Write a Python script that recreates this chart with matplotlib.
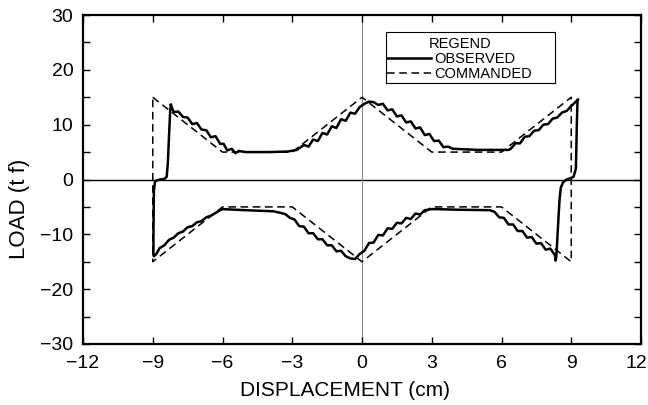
import matplotlib
matplotlib.use("Agg")
import matplotlib.pyplot as plt
from matplotlib.patches import Rectangle
from matplotlib.transforms import ScaledTranslation

# ---------------- data ----------------
cmd_x = [-9, -6, -3, 0, 3, 6, 9, 9, 6, 3, 0, -3, -6, -9, -9]
cmd_y = [15, 5, 5, 15, 5, 5, 15, -15, -5, -5, -15, -5, -5, -15, 15]

obs_x = [
    # top-left descending branch
    -8.22, -8.1, -7.9, -7.7, -7.5, -7.3, -7.1, -6.9, -6.7, -6.5, -6.3, -6.1, -5.95, -5.8, -5.6, -5.45, -5.3,
    # top-left flat
    -5.0, -4.0, -3.2,
    # rising to centre peak
    -2.8, -2.5, -2.3, -2.1, -1.9, -1.7, -1.5, -1.3, -1.1, -0.9, -0.7, -0.5, -0.3, -0.1, 0.1, 0.3, 0.5,
    # descending right of peak
    0.7, 0.9, 1.1, 1.3, 1.5, 1.7, 1.9, 2.1, 2.3, 2.5, 2.7, 2.9, 3.1, 3.3, 3.5, 3.7, 3.9,
    # top-right flat
    5.0, 6.3,
    # rising to right end
    6.4, 6.6, 6.8, 7.0, 7.2, 7.4, 7.6, 7.8, 8.0, 8.2, 8.4, 8.6, 8.8, 9.0, 9.15, 9.3,
    # right drop
    9.27, 9.24, 9.2, 9.1, 8.95, 8.8, 8.65, 8.55, 8.5, 8.45, 8.4, 8.36, 8.33,
    # lower-right branch rising to the left
    8.3, 8.1, 7.9, 7.7, 7.5, 7.3, 7.1, 6.9, 6.7, 6.5, 6.3, 6.1, 5.9, 5.7, 5.5,
    # lower-right flat
    4.0, 3.2,
    # descending to bottom centre
    3.0, 2.7, 2.5, 2.3, 2.1, 1.9, 1.7, 1.5, 1.3, 1.1, 0.9, 0.7, 0.5, 0.3, 0.1, -0.1, -0.3,
    # lower-left centre branch
    -0.5, -0.7, -0.9, -1.1, -1.3, -1.5, -1.7, -1.9, -2.1, -2.3, -2.5, -2.7, -2.9, -3.1, -3.3, -3.6, -3.8,
    # lower-left flat
    -5.0, -6.0,
    # descending to left end
    -6.1, -6.3, -6.5, -6.7, -6.9, -7.1, -7.3, -7.5, -7.7, -7.9, -8.1, -8.3, -8.5, -8.7, -8.85, -8.95,
    # left rise
    -8.97, -8.97, -8.95, -8.9, -8.7, -8.5, -8.4, -8.35, -8.3, -8.25, -8.22,
]
obs_y = [
    13.6, 12.3, 12.4, 11.4, 11.3, 10.1, 10.3, 9.1, 9.0, 7.7, 7.9, 6.5, 6.5, 5.3, 5.6, 4.8, 5.2,
    5.0, 5.0, 5.1,
    5.4, 6.3, 6.0, 7.3, 7.0, 8.5, 8.2, 9.7, 9.4, 11.0, 10.7, 12.2, 12.0, 13.2, 13.8, 14.2, 14.1,
    13.6, 13.8, 12.6, 12.8, 11.5, 11.7, 10.4, 10.6, 9.3, 9.5, 8.1, 8.3, 7.0, 7.1, 5.9, 6.0, 5.6,
    5.4, 5.4,
    5.6, 6.6, 6.6, 7.8, 7.9, 8.9, 9.0, 10.0, 10.1, 11.1, 11.3, 12.2, 12.5, 13.4, 14.0, 14.6,
    14.5, 10.0, 2.0, 0.5, 0.2, 0.0, -0.5, -1.5, -3.5, -7.0, -11.0, -14.0, -14.8,
    -13.8, -12.6, -12.8, -11.6, -11.7, -10.5, -10.6, -9.4, -9.4, -8.2, -8.2, -7.0, -6.9, -5.9, -5.6,
    -5.5, -5.4,
    -5.4, -5.6, -6.4, -6.2, -7.2, -7.0, -8.0, -7.9, -9.0, -8.9, -10.2, -10.1, -11.5, -11.6, -13.0, -13.6, -14.5,
    -14.4, -14.0, -13.0, -13.1, -12.0, -12.0, -10.9, -10.9, -9.8, -9.8, -8.6, -8.5, -7.3, -7.0, -6.3, -6.0, -5.8,
    -5.6, -5.4,
    -5.6, -6.1, -6.6, -6.9, -7.6, -7.8, -8.5, -8.7, -9.5, -9.8, -10.6, -11.0, -12.0, -12.5, -13.6, -14.0,
    -13.8, -10.0, -2.0, -0.3, 0.0, 0.1, 0.5, 3.0, 8.0, 12.5, 13.6,
]

x_ticks = [-12, -9, -6, -3, 0, 3, 6, 9, 12]
y_ticks = [-30, -20, -10, 0, 10, 20, 30]

# ---------------- figure ----------------
plt.rcParams["font.family"] = ["Liberation Sans", "DejaVu Sans"]

W, H = 648, 405
fig = plt.figure(figsize=(W / 100, H / 100), dpi=100)
L, R, T, B = 83, 641, 15, 344
ax = fig.add_axes([L / W, 1 - B / H, (R - L) / W, (B - T) / H])

def ax_coords(px, py):
    return (px - L) / (R - L), (B - py) / (B - T)

ax.axhline(0, color="black", lw=1.0, zorder=1)
ax.axvline(0, color="#888888", lw=0.8, zorder=1)

ax.plot(obs_x, obs_y, color="black", lw=1.8, solid_joinstyle="round", label="OBSERVED", zorder=3)
ax.plot(cmd_x, cmd_y, color="black", lw=1.1, linestyle=(0, (5, 3)), label="COMMANDED", zorder=2)

ax.set_xlim(-12, 12)
ax.set_ylim(-30, 30)
ax.set_xticks(x_ticks)
ax.set_xticklabels([str(v).replace("-", "\u2212") for v in x_ticks])
ax.set_yticks(y_ticks)
ax.set_yticklabels([str(v).replace("-", "\u2212") for v in y_ticks])
ax.set_yticks([-25, -15, -5, 5, 15, 25], minor=True)
ax.tick_params(which="both", direction="in", top=True, right=True, labelsize=14, width=1.0)
ax.tick_params(which="both", length=5)
ax.tick_params(axis="x", pad=8)
ax.tick_params(axis="y", pad=7)
for s in ax.spines.values():
    s.set_linewidth(1.6)

# shift the last x tick label slightly left so it stays inside the figure
lbl = ax.get_xticklabels()[-1]
lbl.set_transform(lbl.get_transform() + ScaledTranslation(-5 / 100, 0, fig.dpi_scale_trans))

ax.set_xlabel("DISPLACEMENT (cm)", fontsize=15)
ax.xaxis.set_label_coords(*ax_coords(345, 381))
ax.set_ylabel("LOAD (t f)", fontsize=16)
ax.yaxis.set_label_coords(*ax_coords(30, 209))

# legend: frame drawn separately to match reference placement
leg = ax.legend(title="REGEND", loc="upper left", bbox_to_anchor=ax_coords(386, 36),
                borderaxespad=0, frameon=False, fontsize=10.5,
                title_fontsize=10.5, handlelength=3.0, handletextpad=0.2,
                labelspacing=0.05, borderpad=0.1, alignment="center")
x0, y0 = ax_coords(386, 83)
x1, y1 = ax_coords(555, 32)
ax.add_patch(Rectangle((x0, y0), x1 - x0, y1 - y0, transform=ax.transAxes,
                       fill=True, facecolor="white", edgecolor="black", lw=0.8, zorder=4))
leg.set_zorder(5)

fig.savefig("out.png", dpi=100)
